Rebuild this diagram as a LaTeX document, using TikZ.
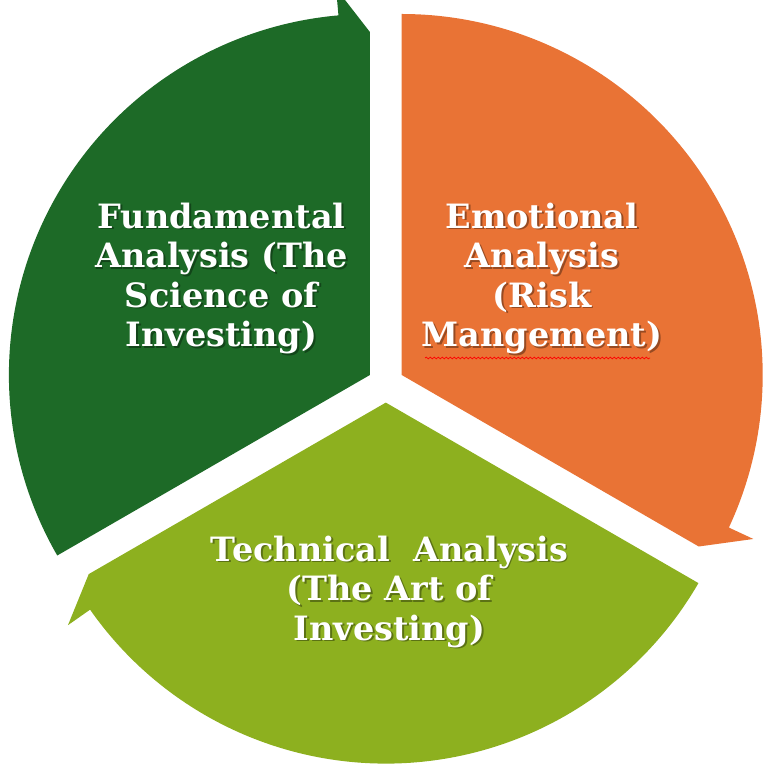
\documentclass[tikz,border=0pt]{standalone}
\usepackage{fontspec}
\setmainfont{DejaVu Serif}
\usetikzlibrary{decorations.pathmorphing}
\definecolor{dkgreen}{RGB}{29,106,39}
\definecolor{orng}{RGB}{233,115,53}
\definecolor{ltgreen}{RGB}{141,176,31}
\tikzset{
  lbl/.style={align=center, text=white, font=\bfseries\fontsize{33.5}{39.5}\selectfont, inner sep=0pt, anchor=base},
  lblshadow/.style={lbl, text=black, text opacity=0.35},
  wavy/.style={red, line width=0.7pt, decorate, decoration={snake, segment length=4pt, amplitude=0.9pt}},
}
\begin{document}
\begin{tikzpicture}[x=1pt,y=1pt]
\useasboundingbox (0,0) rectangle (774,772);
\clip (0,0) rectangle (774,772);
% segments
\fill[dkgreen, shift={(369.9,397)}] (0,0) -- (210:361pt) arc[start angle=210,end angle=95,radius=361pt] -- (95:388pt) -- (90:343pt) -- cycle;
\fill[orng, shift={(401.7,397)}] (0,0) -- (90:361pt) arc[start angle=90,end angle=-25,radius=361pt] -- (-25:388pt) -- (-30:343pt) -- cycle;
\fill[ltgreen, shift={(385.8,369.4)}] (0,0) -- (330:361pt) arc[start angle=330,end angle=215,radius=361pt] -- (215:388pt) -- (210:343pt) -- cycle;
% labels with text shadow (anchor base = last line's baseline)
\node[lblshadow] (fs) at (223.3,423.5) {Fundamental\\Analysis (The\\Science of\\Investing)};
\node[lbl] (f) at (221.5,425.3) {Fundamental\\Analysis (The\\Science of\\Investing)};
\node[lblshadow] (es) at (543.8,423.5) {Emotional\\Analysis\\(Risk\\Mangement)};
\node[lbl] (e) at (542,425.3) {Emotional\\Analysis\\(Risk\\Mangement)};
\node[lblshadow] (ts) at (391.3,130.2) {Technical~~Analysis\\(The Art of\\Investing)};
\node[lbl] (t) at (389.5,132) {Technical~~Analysis\\(The Art of\\Investing)};
% spell-check underline under "Mangement)"
\coordinate (w1) at (425,414);
\coordinate (w2) at (650,414);
\draw[wavy] (w1) -- (w2);
\end{tikzpicture}
\end{document}
